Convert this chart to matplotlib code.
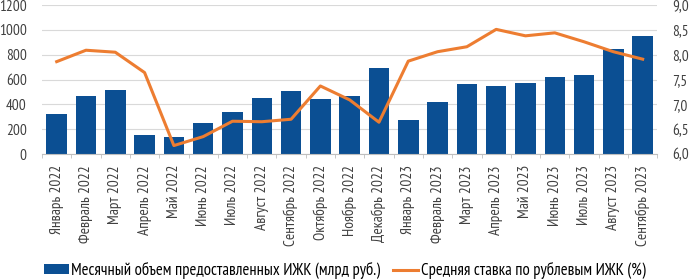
import matplotlib.pyplot as plt
import numpy as np

months = ["Январь 2022", "Февраль 2022", "Март 2022", "Апрель 2022", "Май 2022",
          "Июнь 2022", "Июль 2022", "Август 2022", "Сентябрь 2022", "Октябрь 2022",
          "Ноябрь 2022", "Декабрь 2022", "Январь 2023", "Февраль 2023", "Март 2023",
          "Апрель 2023", "Май 2023", "Июнь 2023", "Июль 2023", "Август 2023",
          "Сентябрь 2023"]
volume = [320, 470, 515, 153, 134, 247, 336, 449, 510, 443, 465, 693,
          276, 416, 561, 550, 572, 618, 639, 846, 948]
rate = [7.86, 8.09, 8.05, 7.64, 6.17, 6.35, 6.66, 6.65, 6.70, 7.37, 7.09, 6.64,
        7.87, 8.06, 8.16, 8.51, 8.38, 8.44, 8.26, 8.06, 7.91]

plt.rcParams['font.family'] = ['PT Sans Narrow', 'DejaVu Sans']
plt.rcParams['font.size'] = 11

fig = plt.figure(figsize=(6.89, 2.8), dpi=100)
ax = fig.add_axes([0.061, 0.45, 0.893, 0.532])
x = np.arange(len(months))

bars = ax.bar(x, volume, width=0.7, color='#0B4F93', zorder=2,
              label="Месячный объем предоставленных ИЖК (млрд руб.)")
ax.set_ylim(0, 1200)
ax.set_yticks(range(0, 1201, 200))
ax.set_xlim(-0.5, len(months) - 0.5)
ax.grid(axis='y', color='#d9d9d9', linewidth=0.8, zorder=0)
ax.set_xticks(x)
ax.set_xticklabels(months, rotation=90, color='#404040')
ax.set_xticks(np.arange(-0.5, len(months)), minor=True)
ax.tick_params(axis='x', which='major', length=0, pad=8)
ax.tick_params(axis='x', which='minor', length=3, color='#bfbfbf')
ax.tick_params(axis='y', length=0, colors='#404040', pad=11)
for s in ['top', 'right', 'left']:
    ax.spines[s].set_visible(False)
ax.spines['bottom'].set_color('#bfbfbf')

ax2 = ax.twinx()
line, = ax2.plot(x, rate, color='#ED7D31', linewidth=2.2, zorder=3,
                 label="Средняя ставка по рублевым ИЖК (%)")
ax2.set_ylim(6.0, 9.0)
ax2.set_yticks(np.arange(6.0, 9.01, 0.5))
ax2.set_yticklabels([f"{v:.1f}".replace('.', ',') for v in np.arange(6.0, 9.01, 0.5)])
ax2.tick_params(axis='y', length=0, colors='#404040', pad=11)
for s in ['top', 'right', 'left', 'bottom']:
    ax2.spines[s].set_visible(False)

fig.legend([bars, line], [bars.get_label(), line.get_label()], loc='lower center',
           ncol=2, frameon=False, bbox_to_anchor=(0.5, -0.05), fontsize=12,
           handlelength=1.5, handleheight=0.55, handletextpad=0.15,
           columnspacing=0.8)

fig.savefig('out.png', dpi=100)
